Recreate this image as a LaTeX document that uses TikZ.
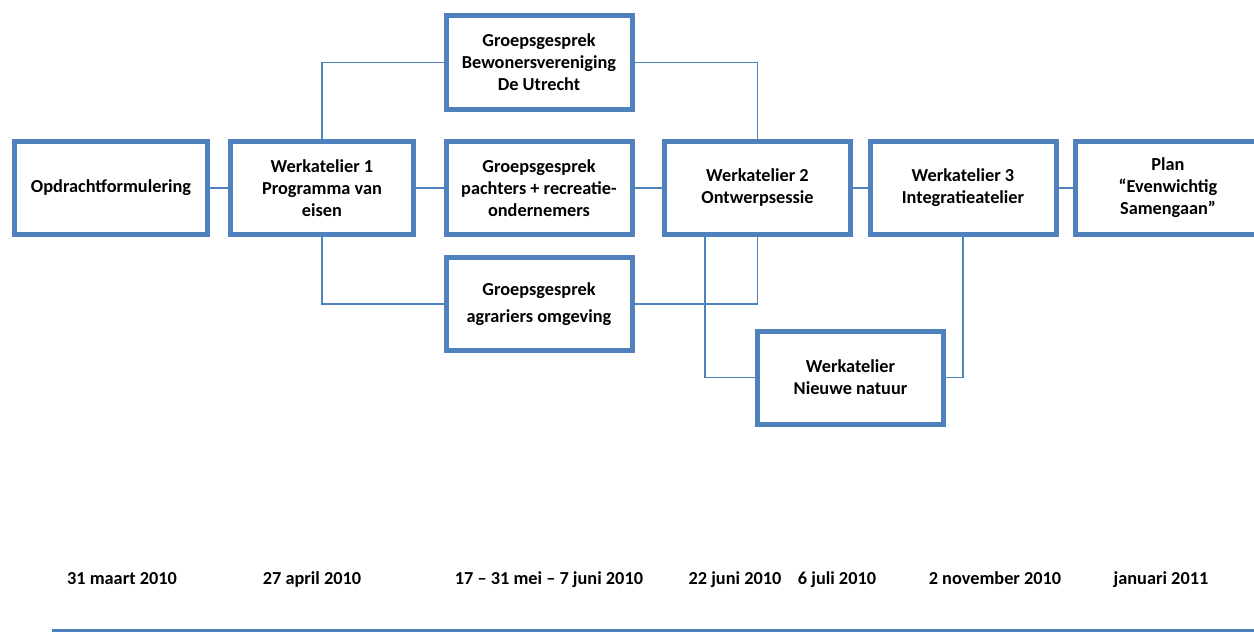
\documentclass[tikz,border=0pt]{standalone}
\usepackage{fontspec}
\setmainfont{Carlito}
\definecolor{kaderblauw}{HTML}{4F81BD}
\begin{document}
\begin{tikzpicture}[x=1pt,y=-1pt,
  stap/.style={draw=kaderblauw,line width=5pt,fill=white,align=center,
    minimum width=186pt,minimum height=93pt,inner sep=0pt,
    font=\fontsize{18.3}{22}\selectfont\bfseries},
  lijn/.style={draw=kaderblauw,line width=1.8pt},
  datum/.style={anchor=base,font=\fontsize{18.3}{22}\selectfont\bfseries}]
\useasboundingbox (0,0) rectangle (1254,632);

\node[stap,minimum width=193pt] (opdr) at (111,188) {Opdrachtformulering};
\node[stap,minimum width=183pt] (wa1) at (322,188) {Werkatelier 1\\Programma van\\eisen};
\node[stap,minimum height=94pt] (bew) at (539,62.5) {Groepsgesprek\\Bewonersvereniging\\De Utrecht};
\node[stap] (pacht) at (539,188) {Groepsgesprek\\pachters + recreatie-\\ondernemers};
\node[stap] (agr) at (539,304) {Groepsgesprek\\[5pt]agrariers omgeving};
\node[stap] (wa2) at (757.5,188) {Werkatelier 2\\Ontwerpsessie};
\node[stap] (nat) at (850.5,377.5) {Werkatelier\\Nieuwe natuur};
\node[stap] (wa3) at (963,188) {Werkatelier 3\\Integratieatelier};
\node[stap] (plan) at (1168,188) {Plan\\“Evenwichtig\\Samengaan”};

\draw[lijn] (opdr) -- (wa1);
\draw[lijn] (wa1) -- (pacht);
\draw[lijn] (pacht) -- (wa2);
\draw[lijn] (wa2) -- (wa3);
\draw[lijn] (wa3) -- (plan);
\draw[lijn] (wa1.north) |- (bew.west);
\draw[lijn] (bew.east) -| (wa2.north);
\draw[lijn] (wa1.south) |- (agr.west);
\draw[lijn] (agr.east) -| (wa2.south);
\draw[lijn] ([xshift=-52.5pt]wa2.south) |- (nat.west);
\draw[lijn] (nat.east) -| (wa3.south);

\node[datum] (d1) at (122,584) {31 maart 2010};
\node[datum] (d2) at (312,584) {27 april 2010};
\node[datum] (d3) at (549,584) {17 – 31 mei – 7 juni 2010};
\node[datum] (d4) at (735,584) {22 juni 2010};
\node[datum] (d5) at (837,584) {6 juli 2010};
\node[datum] (d6) at (995,584) {2 november 2010};
\node[datum] (d7) at (1161,584) {januari 2011};

\coordinate (asbegin) at (52,630.5);
\coordinate (aseinde) at (1254,630.5);
\draw[draw=kaderblauw,line width=4pt] (asbegin) -- (aseinde);
\end{tikzpicture}
\end{document}
